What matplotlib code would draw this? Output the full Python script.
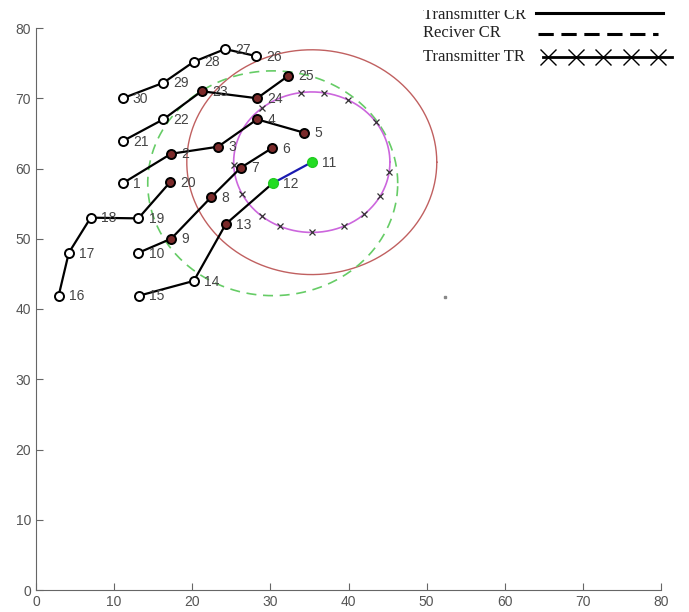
import numpy as np
import matplotlib.pyplot as plt
from matplotlib.lines import Line2D
from matplotlib.transforms import Bbox

# node positions (id -> x, y)
node_ids = list(range(1, 31))
node_x = [11.1, 17.3, 23.3, 28.3, 34.3, 30.2, 26.2, 22.4, 17.3, 13.1,
          35.3, 30.3, 24.3, 20.2, 13.2, 2.9, 4.2, 7.0, 13.1, 17.2,
          11.1, 16.3, 21.2, 28.3, 32.3, 28.2, 24.2, 20.2, 16.3, 11.1]
node_y = [57.9, 62.1, 63.1, 67.0, 65.1, 62.9, 60.1, 55.9, 50.0, 48.0,
          60.9, 57.9, 52.1, 44.0, 41.9, 41.9, 48.0, 53.0, 52.9, 58.1,
          63.9, 67.0, 71.0, 70.0, 73.2, 76.0, 77.0, 75.2, 72.2, 70.0]

# chains of linked nodes
chains = [[1, 2, 3, 4, 5],
          [10, 9, 8, 7, 6],
          [15, 14, 13, 12],
          [16, 17, 18, 19, 20],
          [21, 22, 23, 24, 25],
          [30, 29, 28, 27, 26]]
link_blue = [12, 11]

transmitter = 11
receiver = 12
cr_radius = 16
tr_radius = 10
# angles (deg) of the TR markers on the small circle
tr_marker_angles = [98, 81, 62, 35, -8, -29, -48, -66, -90, -114, -130, -153, -178, 130]

stray_x, stray_y = [52.4], [41.7]

legend_labels = ['Transmitter CR', 'Reciver CR', 'Transmitter TR']

pos = {i: (x, y) for i, x, y in zip(node_ids, node_x, node_y)}

W, H = 689, 612
fig = plt.figure(figsize=(W/100, H/100), dpi=100)
ax = fig.add_axes([36/W, 1 - 590/H, 625/W, 562/H])
ax.set_xlim(0, 80)
ax.set_ylim(0, 80)

tx, ty = pos[transmitter]
rx, ry = pos[receiver]
t = np.linspace(0, 2*np.pi, 400)
ax.plot(tx + cr_radius*np.cos(t), ty + cr_radius*np.sin(t), color='#c06060', lw=1.0, zorder=1)
ax.plot(rx + cr_radius*np.cos(t), ry + cr_radius*np.sin(t), color='#66cc66', lw=1.2,
        dashes=(6, 4), zorder=1)
ax.plot(tx + tr_radius*np.cos(t), ty + tr_radius*np.sin(t), color='#cc66dd', lw=1.2, zorder=1)
a = np.deg2rad(tr_marker_angles)
ax.plot(tx + tr_radius*np.cos(a), ty + tr_radius*np.sin(a), ls='none', marker='x',
        ms=5, mew=0.9, color='#333333', zorder=2)

for ch in chains:
    ax.plot([pos[i][0] for i in ch], [pos[i][1] for i in ch], color='black', lw=1.6, zorder=3)
ax.plot([pos[i][0] for i in link_blue], [pos[i][1] for i in link_blue], color='#1a1ab0',
        lw=1.6, zorder=3)

for i in node_ids:
    x, y = pos[i]
    if i in (transmitter, receiver):
        ax.plot(x, y, 'o', ms=7, mfc='#22dd22', mec='#22cc22', zorder=4)
    else:
        inside = np.hypot(x - rx, y - ry) < cr_radius
        ax.plot(x, y, 'o', ms=6.5, mfc='#7a2a2a' if inside else 'white', mec='black',
                mew=1.4, zorder=4)
    ax.text(x + 1.3, y - 0.1, str(i), fontsize=10, family='Liberation Sans',
            color='#444444', va='center', ha='left', zorder=5)

ax.plot(stray_x, stray_y, 's', ms=1.5, color='#888888')

for s in ['top', 'right']:
    ax.spines[s].set_visible(False)
for s in ['left', 'bottom']:
    ax.spines[s].set_color('#666666')
ax.set_xticks(range(0, 81, 10))
ax.set_yticks(range(0, 81, 10))
ax.tick_params(direction='in', length=5, color='#666666', labelcolor='#555555', labelsize=10)
for lab in ax.get_xticklabels() + ax.get_yticklabels():
    lab.set_family('Liberation Sans')

# legend drawn by hand: text column on the left, key column on the right
def fx(px):
    return px / W

def fy(py):
    return 1 - py / H

clip = Bbox.from_extents(0, 0, W, H - 10)
text_base = [19, 37, 61]
for lab, yb in zip(legend_labels, text_base):
    tt = fig.text(fx(423), fy(yb), lab, family='Liberation Serif', fontsize=12,
                  color='#222222', va='baseline', ha='left')
    tt.set_clip_box(clip)
    tt.set_clip_on(True)

fig.add_artist(Line2D([fx(536), fx(663)], [fy(12.5), fy(12.5)], color='black', lw=2.2))
fig.add_artist(Line2D([fx(538), fx(658)], [fy(34), fy(34)], color='black', lw=2.2,
                      dashes=(5, 2.5)))
fig.add_artist(Line2D([fx(543), fx(672)], [fy(57), fy(57)], color='black', lw=2.0))
fig.add_artist(Line2D([fx(548 + 27.5*k) for k in range(5)], [fy(57)]*5, ls='none',
                      marker='x', ms=12, mew=1.0, color='black'))

fig.savefig('out.png', dpi=100)
